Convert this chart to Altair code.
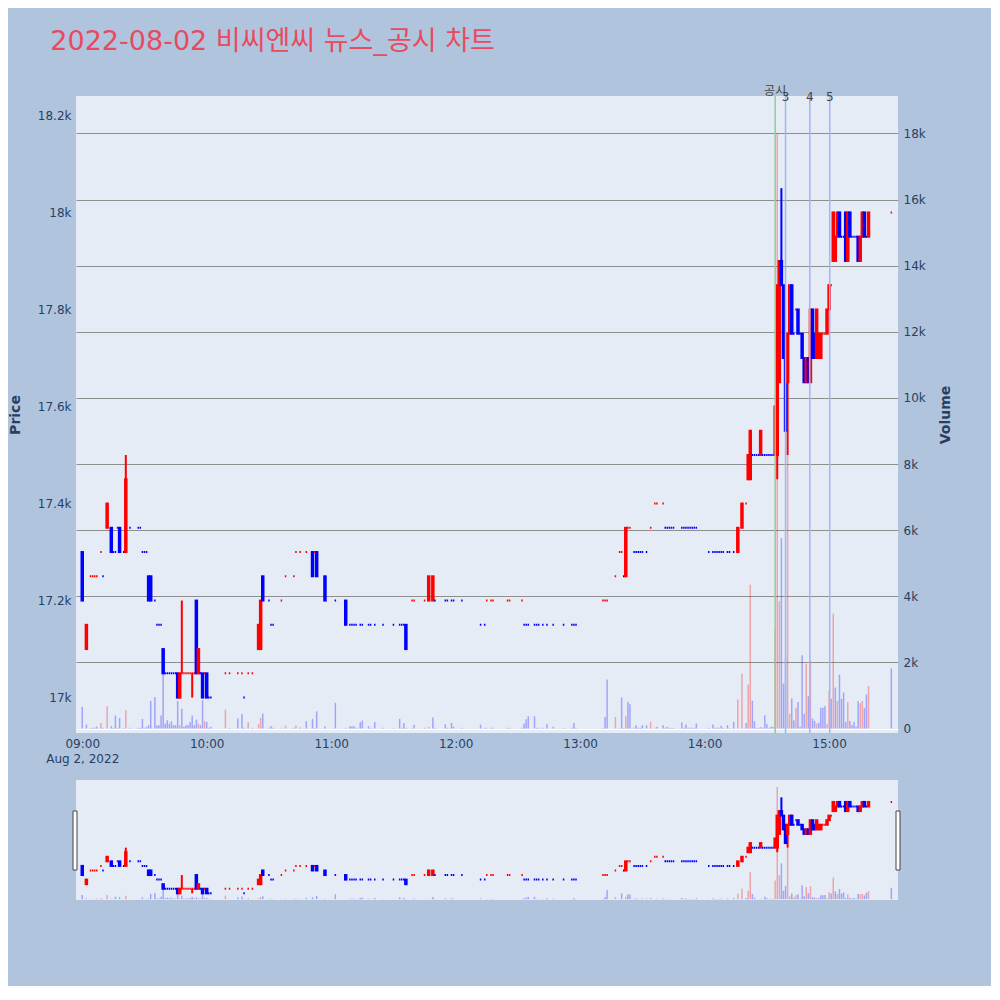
import altair as alt
import pandas as pd

TITLE = "2022-08-02 비씨엔씨 뉴스_공시 차트"
FONT = "Verdana, DejaVu Sans, Noto Sans CJK KR, sans-serif"

# minute offsets from 09:00 (1-minute candles)
minutes = [
    0, 2, 4, 5, 6, 7, 9, 10, 12, 14,
    15, 16, 17, 18, 20, 21, 23, 27, 28, 29,
    30, 31, 32, 33, 35, 36, 37, 38, 39, 40,
    41, 42, 43, 44, 45, 46, 47, 48, 49, 50,
    51, 52, 53, 54, 55, 56, 57, 58, 59, 60,
    61, 62,
    69, 71, 75, 77, 78, 80, 82, 85, 86, 87,
    90, 91, 92, 96, 98, 102, 103, 105, 108, 111,
    112, 113, 117, 122, 127, 129, 130, 131, 132, 134,
    135, 138, 139, 141, 145, 150, 153, 154, 155, 156,
    159, 160,
    165, 167, 169, 170, 175, 176, 178, 179, 183, 192,
    194, 195, 197, 198, 205, 206, 212, 213, 214, 215,
    218, 219, 220, 222, 224, 227, 232, 236, 237, 238,
    251, 252, 253,
    257, 259, 260, 261, 262, 263, 264, 266, 267, 268,
    269, 270, 272, 274, 276, 277, 280, 281, 282, 283,
    284, 285, 289, 290, 291, 292, 293, 294, 295, 296,
    302, 304, 305, 306, 307, 308, 309, 311, 312, 314,
    316, 318, 320, 321, 322, 323, 324, 325, 326, 327,
    328, 329, 330, 331, 332, 333,
    334, 335, 336, 337, 338, 339, 340, 341, 342, 343,
    344, 345, 346, 347, 348, 349, 350, 351, 352, 353,
    354, 355, 356, 357, 358, 359, 360, 361, 362, 363,
    364, 365, 366, 367, 368, 369, 370, 371, 372, 373,
    374, 375, 376, 377, 378, 379, 390,
]

opens = [
    17300, 17100, 17250, 17250, 17250, 17250, 17300, 17250, 17350, 17350,
    17300, 17300, 17350, 17350, 17300, 17300, 17350, 17350, 17350, 17300,
    17300, 17300, 17250, 17250, 17200, 17150, 17150, 17150, 17100, 17050,
    17050, 17050, 17050, 17050, 17050, 17050, 17000, 17050, 17050, 17050,
    17050, 17050, 17050, 17050, 17200, 17050, 17050, 17050, 17050, 17050,
    17000, 17000,
    17050, 17050, 17050, 17050, 17000, 17050, 17050, 17100, 17100, 17250,
    17200, 17150, 17150, 17200, 17250, 17250, 17300, 17300, 17300, 17300,
    17300, 17300, 17250, 17200, 17200, 17150, 17150, 17150, 17150, 17150,
    17150, 17150, 17150, 17150, 17150, 17150, 17150, 17150, 17150, 17150,
    17200, 17200,
    17200, 17200, 17200, 17200, 17200, 17200, 17200, 17200, 17200, 17150,
    17150, 17200, 17200, 17200, 17200, 17200, 17200, 17150, 17150, 17150,
    17150, 17150, 17150, 17150, 17150, 17150, 17150, 17150, 17150, 17150,
    17200, 17200, 17200,
    17250, 17300, 17300, 17250, 17250, 17350, 17350, 17300, 17300, 17300,
    17300, 17300, 17300, 17350, 17400, 17400, 17400, 17350, 17350, 17350,
    17350, 17350, 17350, 17350, 17350, 17350, 17350, 17350, 17350, 17350,
    17300, 17300, 17300, 17300, 17300, 17300, 17300, 17300, 17300, 17300,
    17300, 17350, 17400, 17450, 17450, 17500, 17500, 17500, 17500, 17500,
    17500, 17500, 17500, 17500, 17500, 17500,
    17500, 17500, 17650, 17900, 17850, 17750, 17650, 17750, 17850, 17750,
    17800, 17800, 17750, 17750, 17700, 17650, 17700, 17650, 17800, 17750,
    17700, 17700, 17700, 17750, 17750, 17750, 17800, 17850, 17900, 17900,
    17950, 18000, 17950, 17950, 18000, 17900, 18000, 17950, 17950, 17950,
    17950, 17900, 17950, 18000, 17950, 17950, 18000,
]

highs = [
    17300, 17150, 17250, 17250, 17250, 17250, 17300, 17250, 17400, 17350,
    17300, 17300, 17350, 17350, 17300, 17500, 17350, 17350, 17350, 17300,
    17300, 17300, 17250, 17250, 17200, 17150, 17150, 17150, 17100, 17050,
    17050, 17050, 17050, 17050, 17050, 17050, 17050, 17200, 17050, 17050,
    17050, 17050, 17050, 17050, 17200, 17100, 17050, 17050, 17050, 17050,
    17000, 17000,
    17050, 17050, 17050, 17050, 17000, 17050, 17050, 17150, 17200, 17250,
    17200, 17150, 17150, 17200, 17250, 17250, 17300, 17300, 17300, 17300,
    17300, 17300, 17250, 17200, 17200, 17150, 17150, 17150, 17150, 17150,
    17150, 17150, 17150, 17150, 17150, 17150, 17150, 17150, 17150, 17150,
    17200, 17200,
    17200, 17250, 17250, 17200, 17200, 17200, 17200, 17200, 17200, 17150,
    17150, 17200, 17200, 17200, 17200, 17200, 17200, 17150, 17150, 17150,
    17150, 17150, 17150, 17150, 17150, 17150, 17150, 17150, 17150, 17150,
    17200, 17200, 17200,
    17250, 17300, 17300, 17250, 17350, 17350, 17350, 17300, 17300, 17300,
    17300, 17300, 17300, 17350, 17400, 17400, 17400, 17350, 17350, 17350,
    17350, 17350, 17350, 17350, 17350, 17350, 17350, 17350, 17350, 17350,
    17300, 17300, 17300, 17300, 17300, 17300, 17300, 17300, 17300, 17300,
    17350, 17400, 17400, 17500, 17550, 17500, 17500, 17500, 17500, 17550,
    17500, 17500, 17500, 17500, 17500, 17500,
    17600, 17850, 17900, 18050, 17850, 17750, 17750, 17850, 17850, 17750,
    17800, 17800, 17750, 17750, 17700, 17700, 17700, 17800, 17800, 17750,
    17800, 17750, 17750, 17750, 17750, 17800, 17850, 17850, 18000, 17950,
    18000, 18000, 17950, 17950, 18000, 18000, 18000, 17950, 17950, 17950,
    17950, 17950, 18000, 18000, 17950, 18000, 18000,
]

lows = [
    17200, 17100, 17250, 17250, 17250, 17250, 17300, 17250, 17350, 17300,
    17300, 17300, 17350, 17300, 17300, 17300, 17350, 17350, 17350, 17300,
    17300, 17300, 17200, 17200, 17200, 17150, 17150, 17150, 17050, 17050,
    17050, 17050, 17050, 17050, 17050, 17000, 17000, 17050, 17050, 17050,
    17050, 17050, 17000, 17050, 17050, 17050, 17050, 17000, 17050, 17000,
    17000, 17000,
    17050, 17050, 17050, 17050, 17000, 17050, 17050, 17100, 17100, 17200,
    17200, 17150, 17150, 17200, 17250, 17250, 17300, 17300, 17300, 17250,
    17300, 17250, 17200, 17200, 17150, 17150, 17150, 17150, 17150, 17150,
    17150, 17150, 17150, 17150, 17150, 17150, 17150, 17150, 17150, 17100,
    17200, 17200,
    17200, 17200, 17200, 17200, 17200, 17200, 17200, 17200, 17200, 17150,
    17150, 17200, 17200, 17200, 17200, 17200, 17200, 17150, 17150, 17150,
    17150, 17150, 17150, 17150, 17150, 17150, 17150, 17150, 17150, 17150,
    17200, 17200, 17200,
    17250, 17300, 17300, 17250, 17250, 17350, 17350, 17300, 17300, 17300,
    17300, 17300, 17300, 17350, 17400, 17400, 17400, 17350, 17350, 17350,
    17350, 17350, 17350, 17350, 17350, 17350, 17350, 17350, 17350, 17350,
    17300, 17300, 17300, 17300, 17300, 17300, 17300, 17300, 17300, 17300,
    17300, 17350, 17400, 17450, 17450, 17500, 17500, 17500, 17500, 17500,
    17500, 17500, 17500, 17500, 17500, 17500,
    17500, 17450, 17650, 17850, 17700, 17550, 17500, 17750, 17750, 17750,
    17800, 17750, 17750, 17700, 17650, 17650, 17650, 17650, 17700, 17700,
    17700, 17700, 17700, 17750, 17750, 17750, 17800, 17850, 17900, 17900,
    17950, 17950, 17950, 17950, 17900, 17900, 17950, 17950, 17950, 17950,
    17900, 17900, 17950, 17950, 17950, 17950, 18000,
]

closes = [
    17200, 17150, 17250, 17250, 17250, 17250, 17300, 17250, 17400, 17300,
    17300, 17300, 17350, 17300, 17300, 17450, 17350, 17350, 17350, 17300,
    17300, 17300, 17200, 17200, 17200, 17150, 17150, 17150, 17050, 17050,
    17050, 17050, 17050, 17050, 17050, 17000, 17050, 17050, 17050, 17050,
    17050, 17050, 17050, 17050, 17050, 17100, 17050, 17000, 17050, 17000,
    17000, 17000,
    17050, 17050, 17050, 17050, 17000, 17050, 17050, 17150, 17200, 17200,
    17200, 17150, 17150, 17200, 17250, 17250, 17300, 17300, 17300, 17250,
    17300, 17250, 17200, 17200, 17150, 17150, 17150, 17150, 17150, 17150,
    17150, 17150, 17150, 17150, 17150, 17150, 17150, 17150, 17150, 17100,
    17200, 17200,
    17200, 17250, 17250, 17200, 17200, 17200, 17200, 17200, 17200, 17150,
    17150, 17200, 17200, 17200, 17200, 17200, 17200, 17150, 17150, 17150,
    17150, 17150, 17150, 17150, 17150, 17150, 17150, 17150, 17150, 17150,
    17200, 17200, 17200,
    17250, 17300, 17300, 17250, 17350, 17350, 17350, 17300, 17300, 17300,
    17300, 17300, 17300, 17350, 17400, 17400, 17400, 17350, 17350, 17350,
    17350, 17350, 17350, 17350, 17350, 17350, 17350, 17350, 17350, 17350,
    17300, 17300, 17300, 17300, 17300, 17300, 17300, 17300, 17300, 17300,
    17350, 17400, 17400, 17500, 17550, 17500, 17500, 17500, 17500, 17550,
    17500, 17500, 17500, 17500, 17500, 17500,
    17600, 17850, 17900, 17850, 17700, 17550, 17750, 17850, 17750, 17750,
    17800, 17750, 17750, 17700, 17650, 17700, 17650, 17800, 17700, 17700,
    17800, 17750, 17750, 17750, 17750, 17800, 17850, 17850, 18000, 17950,
    18000, 17950, 17950, 17950, 17900, 18000, 17950, 17950, 17950, 17950,
    17900, 17950, 18000, 17950, 17950, 18000, 18000,
]

volumes = [
    650, 120, 20, 20, 30, 50, 170, 20, 675, 70,
    20, 390, 20, 320, 20, 550, 20, 20, 20, 290,
    20, 50, 100, 835, 950, 100, 100, 390, 1660, 150,
    250, 150, 220, 100, 100, 830, 100, 600, 50, 100,
    100, 200, 390, 100, 270, 150, 100, 850, 220, 200,
    20, 50,
    570, 20, 300, 440, 20, 190, 20, 140, 320, 450,
    20, 70, 20, 20, 90, 20, 90, 30, 220, 290,
    20, 520, 70, 775, 20, 70, 70, 70, 20, 190,
    240, 70, 20, 200, 20, 20, 290, 20, 170, 20,
    20, 110,
    20, 50, 330, 20, 130, 20, 170, 50, 20, 120,
    20, 20, 20, 20, 20, 20, 20, 150, 280, 370,
    370, 20, 20, 20, 130, 50, 20, 20, 170, 20,
    20, 350, 1480,
    350, 20, 940, 20, 370, 800, 735, 20, 100, 20,
    20, 100, 100, 200, 20, 50, 100, 20, 50, 20,
    20, 20, 180, 20, 120, 20, 20, 20, 20, 150,
    20, 120, 20, 20, 20, 80, 20, 100, 20, 200,
    880, 1660, 170, 1330, 4350, 840, 220, 20, 20, 50,
    20, 400, 130, 20, 50, 50,
    3000, 18000, 3850, 5760, 1360, 2110, 8300, 450, 905, 250,
    625, 805, 50, 2215, 450, 1960, 975, 2060, 300, 230,
    150, 170, 625, 625, 675, 130, 1140, 900, 3475, 1240,
    835, 1630, 900, 1090, 200, 805, 230, 100, 200, 50,
    825, 775, 835, 625, 1030, 1290, 1820,
]

# event lines (minutes from 09:00) and their labels
event_minutes = [334, 339, 350.7, 360.3]
event_labels = ["공시", "3", "4", "5"]
event_colors = ["#8fcc98", "#a3b4ee", "#a3b4ee", "#a3b4ee"]

price_ticks = [17000, 17200, 17400, 17600, 17800, 18000, 18200]
volume_ticks = [0, 2000, 4000, 6000, 8000, 10000, 12000, 14000, 16000, 18000]
time_ticks = [0, 60, 120, 180, 240, 300, 360]

UP = "#ff0000"
DOWN = "#0000ff"

# candle direction (plotly rule) and volume colour (close vs previous close)
cols, vcols = [], []
prev_c, prev_d = None, 1
for o, c in zip(opens, closes):
    if c > o:
        d = 1
    elif c < o:
        d = -1
    elif prev_c is not None and c > prev_c:
        d = 1
    elif prev_c is not None and c < prev_c:
        d = -1
    else:
        d = prev_d
    vd = d if prev_c is None else (1 if c > prev_c else -1)
    cols.append(UP if d > 0 else DOWN)
    vcols.append(UP if vd > 0 else DOWN)
    prev_c, prev_d = c, d

df = pd.DataFrame({
    "m": minutes, "o": opens, "h": highs, "l": lows, "c": closes, "v": volumes,
    "col": cols, "vcol": vcols,
})
df["blo"] = df[["o", "c"]].min(axis=1)
df["bhi"] = df[["o", "c"]].max(axis=1)

ev = pd.DataFrame({"m": event_minutes, "label": event_labels, "col": event_colors})

W = 822
H_MAIN = 637
H_SLIDE = 120

x_scale = alt.Scale(domain=[-0.6, 390.8], nice=False, zero=False)
label_expr = ("datum.value == 0 ? ['09:00', 'Aug 2, 2022'] : "
              "((9 + datum.value / 60) < 10 ? '0' : '') + (9 + datum.value / 60) + ':00'")
X = alt.X("m:Q", scale=x_scale,
          axis=alt.Axis(values=time_ticks, labelExpr=label_expr, grid=False, title=None,
                        labelPadding=5, labelFlush=False, labelLineHeight=15))
XS = alt.X("m:Q", scale=x_scale, axis=None)

price_scale = alt.Scale(domain=[16927, 18240], nice=False, zero=False)
vol_scale = alt.Scale(domain=[-136, 19134], nice=False, zero=False)

price_axis = alt.Axis(orient="left", values=price_ticks, format="~s", title="Price",
                      gridColor="white", gridWidth=1, labelPadding=5, titlePadding=15)
vol_axis = alt.Axis(orient="right", values=volume_ticks, title="Volume",
                    labelExpr="datum.value == 0 ? '0' : format(datum.value, '~s')",
                    grid=True,
                    gridColor=alt.condition("datum.value === 0", alt.value("white"), alt.value("#8f8f8f")),
                    gridWidth=1.2, labelPadding=5, titlePadding=27, titleAngle=270)


def vol_layer(x, axis):
    return alt.Chart(df).mark_bar(size=1.5, opacity=0.3).encode(
        x=x,
        y=alt.Y("v:Q", scale=vol_scale, axis=axis, stack=None),
        y2=alt.datum(0),
        color=alt.Color("vcol:N", scale=None),
    )


def price_layer(x, axis):
    wick = alt.Chart(df).mark_rule(strokeWidth=2).encode(
        x=x,
        y=alt.Y("l:Q", scale=price_scale, axis=axis),
        y2="h:Q",
        color=alt.Color("col:N", scale=None),
    )
    body = alt.Chart(df).mark_bar(size=1.5, strokeWidth=2).encode(
        x=x,
        y=alt.Y("blo:Q", scale=price_scale, axis=axis),
        y2="bhi:Q",
        color=alt.Color("col:N", scale=None),
        stroke=alt.Stroke("col:N", scale=None),
    )
    return alt.layer(wick, body)


vlines = alt.Chart(ev).mark_rule(strokeWidth=1.5).encode(
    x=X, color=alt.Color("col:N", scale=None)
)
ev_word = alt.Chart(ev[ev["label"] == "공시"]).mark_text(
    fontSize=12, color="#444", font=FONT, baseline="middle"
).encode(x=X, y=alt.value(-5), text="label:N")
ev_num = alt.Chart(ev[ev["label"] != "공시"]).mark_text(
    fontSize=12, color="#444", font=FONT, baseline="middle"
).encode(x=X, y=alt.value(1), text="label:N")

main = alt.layer(
    vol_layer(X, vol_axis), price_layer(X, price_axis), vlines, ev_word, ev_num
).resolve_scale(y="independent").properties(width=W, height=H_MAIN)

grip = pd.DataFrame({"k": [0]})
grip_left = alt.Chart(grip).mark_rect(fill="white", stroke="#444", strokeWidth=1).encode(
    x=alt.value(-3), x2=alt.value(1), y=alt.value(31), y2=alt.value(90))
grip_right = alt.Chart(grip).mark_rect(fill="white", stroke="#444", strokeWidth=1).encode(
    x=alt.value(W - 2), x2=alt.value(W + 2), y=alt.value(31), y2=alt.value(90))

slider = alt.layer(
    vol_layer(XS, None), price_layer(XS, None), grip_left, grip_right
).resolve_scale(y="independent").properties(width=W, height=H_SLIDE)

chart = alt.vconcat(main, slider, spacing=47, bounds="flush").properties(
    title=alt.TitleParams(TITLE, anchor="start", fontSize=27, color="#e84a5f", font=FONT,
                          fontWeight="normal", dx=42, offset=29),
    background="#b0c4de",
    padding={"left": 0, "top": 20, "right": 38, "bottom": 86},
).configure_view(fill="#e5ecf6", stroke=None).configure_axis(
    labelColor="#2a3f5f", titleColor="#2a3f5f", labelFont=FONT, titleFont=FONT,
    labelFontSize=12, titleFontSize=14, titleFontWeight="bold",
    domain=False, ticks=False, tickSize=0,
)

chart.save("out.html", embed_options={"renderer": "svg", "actions": False})
